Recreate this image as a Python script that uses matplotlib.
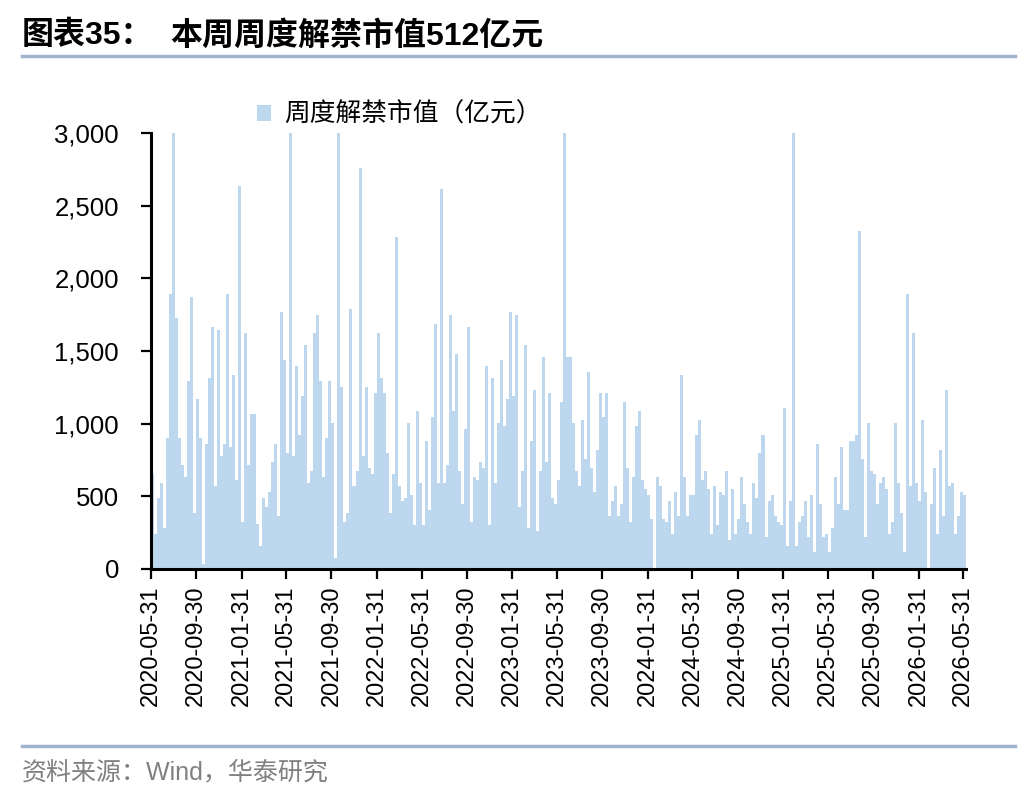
import matplotlib
matplotlib.use("Agg")
import matplotlib.pyplot as plt
import pandas as pd
import numpy as np
from matplotlib.patches import Patch
from matplotlib.ticker import FuncFormatter

plt.rcParams['font.family'] = ['Liberation Sans', 'Noto Sans CJK SC', 'DejaVu Sans']

# ---- data (weekly unlock market value, 100 million CNY) ----
start_date = "2020-05-31"
end_date = "2026-05-31"
values = [655, 243, 490, 594, 284, 904, 1892, 3000, 1729, 904, 718, 635, 1296, 1872, 388, 1172, 904, 37, 862, 1317,
          1667, 573, 1647, 780, 862, 1892, 842, 1337, 615, 2638, 326, 1626, 718,
          1069, 1069, 307, 161, 490, 429, 532, 738, 862, 367, 1768, 1440, 800, 3000, 780, 1399, 924, 1193, 1544, 594,
          677, 1626, 1750, 1296, 635, 904, 1296, 1007, 78, 3000, 1255, 320, 388,
          1791, 573, 677, 2761, 780, 1255, 697, 655, 1213, 1626, 1317, 1213, 800, 388, 655, 2287, 573, 470, 490, 1007,
          511, 305, 1090, 594, 305, 883, 408, 1048, 1688, 594, 2617, 594, 718,
          1750, 1090, 1482, 677, 450, 966, 1667, 326, 635, 615, 738, 697, 1399, 305, 1317, 594, 1007, 1440, 986, 1172,
          1771, 1193, 1750, 429, 677, 1544, 284, 883, 1234, 264, 677, 1461, 738, 1213,
          490, 450, 615, 1151, 3000, 1461, 1461, 1007, 677, 573, 1028, 759, 1358, 697, 532, 821, 1213, 1048, 1213, 367,
          470, 573, 367, 450, 1151, 697, 326, 635, 986, 1090, 615, 553, 511,
          346, 5, 635, 573, 346, 326, 470, 243, 532, 367, 1337, 635, 367, 511, 511, 924, 1028, 615, 677, 553, 243, 573,
          305, 532, 511, 677, 202, 553, 243, 346, 635, 450, 326,
          243, 594, 490, 800, 924, 222, 470, 511, 367, 326, 305, 1110, 161, 470, 3000, 161, 326, 367, 470, 222, 511,
          119, 862, 450, 222, 243, 119, 284, 635, 450, 842, 408, 408, 883,
          883, 924, 2328, 759, 222, 1007, 677, 655, 450, 594, 635, 553, 243, 326, 1007, 594, 388, 119, 1892, 573, 1626,
          594, 470, 1028, 532, 5, 450, 697, 243, 821, 367, 1234, 573, 594, 243, 367, 532, 511]
tick_labels = ["2020-05-31", "2020-09-30", "2021-01-31", "2021-05-31", "2021-09-30", "2022-01-31",
               "2022-05-31", "2022-09-30", "2023-01-31", "2023-05-31", "2023-09-30", "2024-01-31",
               "2024-05-31", "2024-09-30", "2025-01-31", "2025-05-31", "2025-09-30", "2026-01-31",
               "2026-05-31"]
series_name = "周度解禁市值（亿元）"
title_left = "图表35："
title_right = "本周周度解禁市值512亿元"
source = "资料来源：Wind，华泰研究"

bar_color = "#BDD7EE"
line_color = "#9FB4CF"

# ---- figure ----
fig = plt.figure(figsize=(10.36, 7.96), dpi=100)
ax = fig.add_axes([151 / 1036, 1 - 569 / 796, (966 - 151) / 1036, (569 - 133) / 796])

dates = pd.date_range(start_date, end_date, periods=len(values))
x = matplotlib.dates.date2num(dates)
step = x[1] - x[0]
ax.bar(x, values, width=step, align='edge', color=bar_color, linewidth=0, antialiased=False)

ax.set_xlim(x[0], x[-1] + step)
ax.set_ylim(0, 3000)
ax.set_yticks(np.arange(0, 3001, 500))
ax.yaxis.set_major_formatter(FuncFormatter(lambda v, p: f"{int(v):,}"))
tick_pos = matplotlib.dates.date2num(pd.to_datetime(tick_labels))
ax.set_xticks(tick_pos)
ax.set_xticklabels(tick_labels, rotation=90)

for s in ['top', 'right']:
    ax.spines[s].set_visible(False)
for s in ['left', 'bottom']:
    ax.spines[s].set_linewidth(2.2)
    ax.spines[s].set_color('black')
ax.tick_params(axis='both', direction='out', length=7, width=1.6, colors='black')
ax.tick_params(axis='y', labelsize=18.5, pad=16)
ax.tick_params(axis='x', labelsize=17, pad=5)

leg = ax.legend(handles=[Patch(facecolor=bar_color, edgecolor='none')], labels=[series_name],
                loc='upper left', bbox_to_anchor=(257 / 1036, 1 - 102 / 796), bbox_transform=fig.transFigure,
                frameon=False, handlelength=0.55, handleheight=0.55, handletextpad=0.5,
                borderpad=0, borderaxespad=0, prop={'family': ['Noto Sans CJK SC'], 'size': 18.5})

# title and rules
fig.text(22 / 1036, 1 - 36 / 796, title_left, fontsize=23, fontweight='bold', va='center', ha='left',
         family=['Liberation Sans', 'Noto Sans CJK SC'])
fig.text(170 / 1036, 1 - 36 / 796, title_right, fontsize=23, fontweight='bold', va='center', ha='left',
         family=['Liberation Sans', 'Noto Sans CJK SC'])
fig.add_artist(plt.Line2D([22 / 1036, 1015 / 1036], [1 - 56 / 796, 1 - 56 / 796], color=line_color, lw=2.5))
fig.add_artist(plt.Line2D([22 / 1036, 1015 / 1036], [1 - 746 / 796, 1 - 746 / 796], color=line_color, lw=2.5))
fig.text(22 / 1036, 1 - 772 / 796, source, fontsize=18, color='#808080', va='center', ha='left',
         family=['Liberation Sans', 'Noto Sans CJK SC'])

fig.savefig("out.png", dpi=100)
